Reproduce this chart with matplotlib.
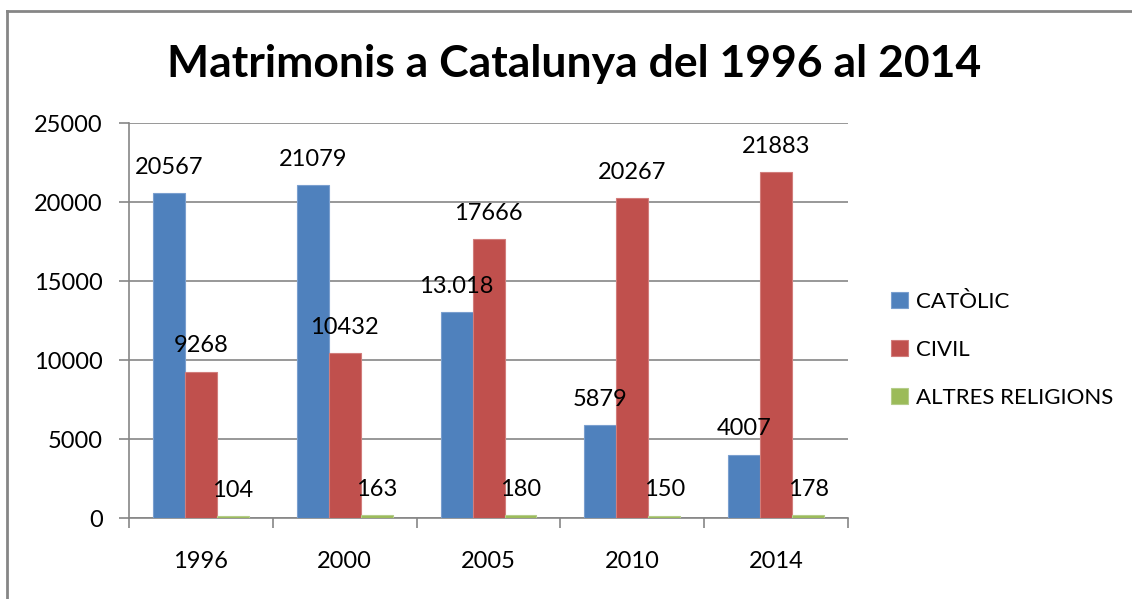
import matplotlib
matplotlib.use("Agg")
from matplotlib import pyplot as plt
from matplotlib.lines import Line2D
import numpy as np

plt.rcParams['font.family'] = ['Lato', 'DejaVu Sans']

# Data
years = ['1996', '2000', '2005', '2010', '2014']
series_names = ['CATÒLIC', 'CIVIL', 'ALTRES RELIGIONS']
catolic = [20567, 21079, 13018, 5879, 4007]
civil = [9268, 10432, 17666, 20267, 21883]
altres = [104, 163, 180, 150, 178]
# labels as shown on the chart (one is written with a dot)
catolic_labels = ['20567', '21079', '13.018', '5879', '4007']
civil_labels = ['9268', '10432', '17666', '20267', '21883']
altres_labels = ['104', '163', '180', '150', '178']

colors = ['#4F81BD', '#C0504D', '#9BBB59']
edges = ['#7A9FCF', '#D27D7B', '#B5CD8A']
grid_col = '#868686'

fig = plt.figure(figsize=(11.32, 5.99), dpi=100)

# outer chart border: only top and left edges are visible
bx, by = 7 / 1132, 1 - 11 / 599
fig.add_artist(Line2D([bx, 1.0], [by, by], transform=fig.transFigure,
                      color=grid_col, linewidth=2))
fig.add_artist(Line2D([bx, bx], [0.0, by], transform=fig.transFigure,
                      color=grid_col, linewidth=2))

ax = fig.add_axes([0.1140, 0.1352, 0.6352, 0.6594])

x = np.arange(len(years))
w = 0.222
all_vals = [catolic, civil, altres]
all_labels = [catolic_labels, civil_labels, altres_labels]

for i in range(3):
    pos = x + (i - 1) * w
    ax.bar(pos, all_vals[i], width=w, color=colors[i], edgecolor=edges[i],
           linewidth=0.8, label=series_names[i], zorder=3)
    for p, v, t in zip(pos, all_vals[i], all_labels[i]):
        ax.annotate(t, xy=(p, v), xytext=(0, 11), textcoords='offset points',
                    ha='center', va='bottom', fontsize=17, color='black',
                    zorder=4)

ax.set_xlim(-0.5, len(years) - 0.5)
ax.set_ylim(0, 25000)
ax.set_yticks([0, 5000, 10000, 15000, 20000, 25000])
ax.yaxis.grid(True, color=grid_col, linewidth=1.2, zorder=0)
ax.set_axisbelow(True)

ax.set_xticks(x)
ax.set_xticklabels(years)
ax.set_xticks(np.arange(-0.5, len(years)), minor=True)
ax.tick_params(axis='x', which='major', length=0, pad=24, labelsize=17)
ax.tick_params(axis='x', which='minor', length=7, width=1.2, color=grid_col,
               direction='out')
ax.tick_params(axis='y', length=7, width=1.2, color=grid_col, pad=12,
               labelsize=17)

for s in ['top', 'right']:
    ax.spines[s].set_visible(False)
for s in ['left', 'bottom']:
    ax.spines[s].set_color(grid_col)
    ax.spines[s].set_linewidth(1.2)

fig.text(0.507, 0.893, 'Matrimonis a Catalunya del 1996 al 2014',
         ha='center', va='center', fontsize=32, fontweight='bold')

ax.legend(loc='center left', bbox_to_anchor=(1.032, 0.426), frameon=False,
          fontsize=16, handlelength=0.75, handleheight=0.75,
          handletextpad=0.35, labelspacing=1.25)

fig.savefig('out.png', dpi=100)
